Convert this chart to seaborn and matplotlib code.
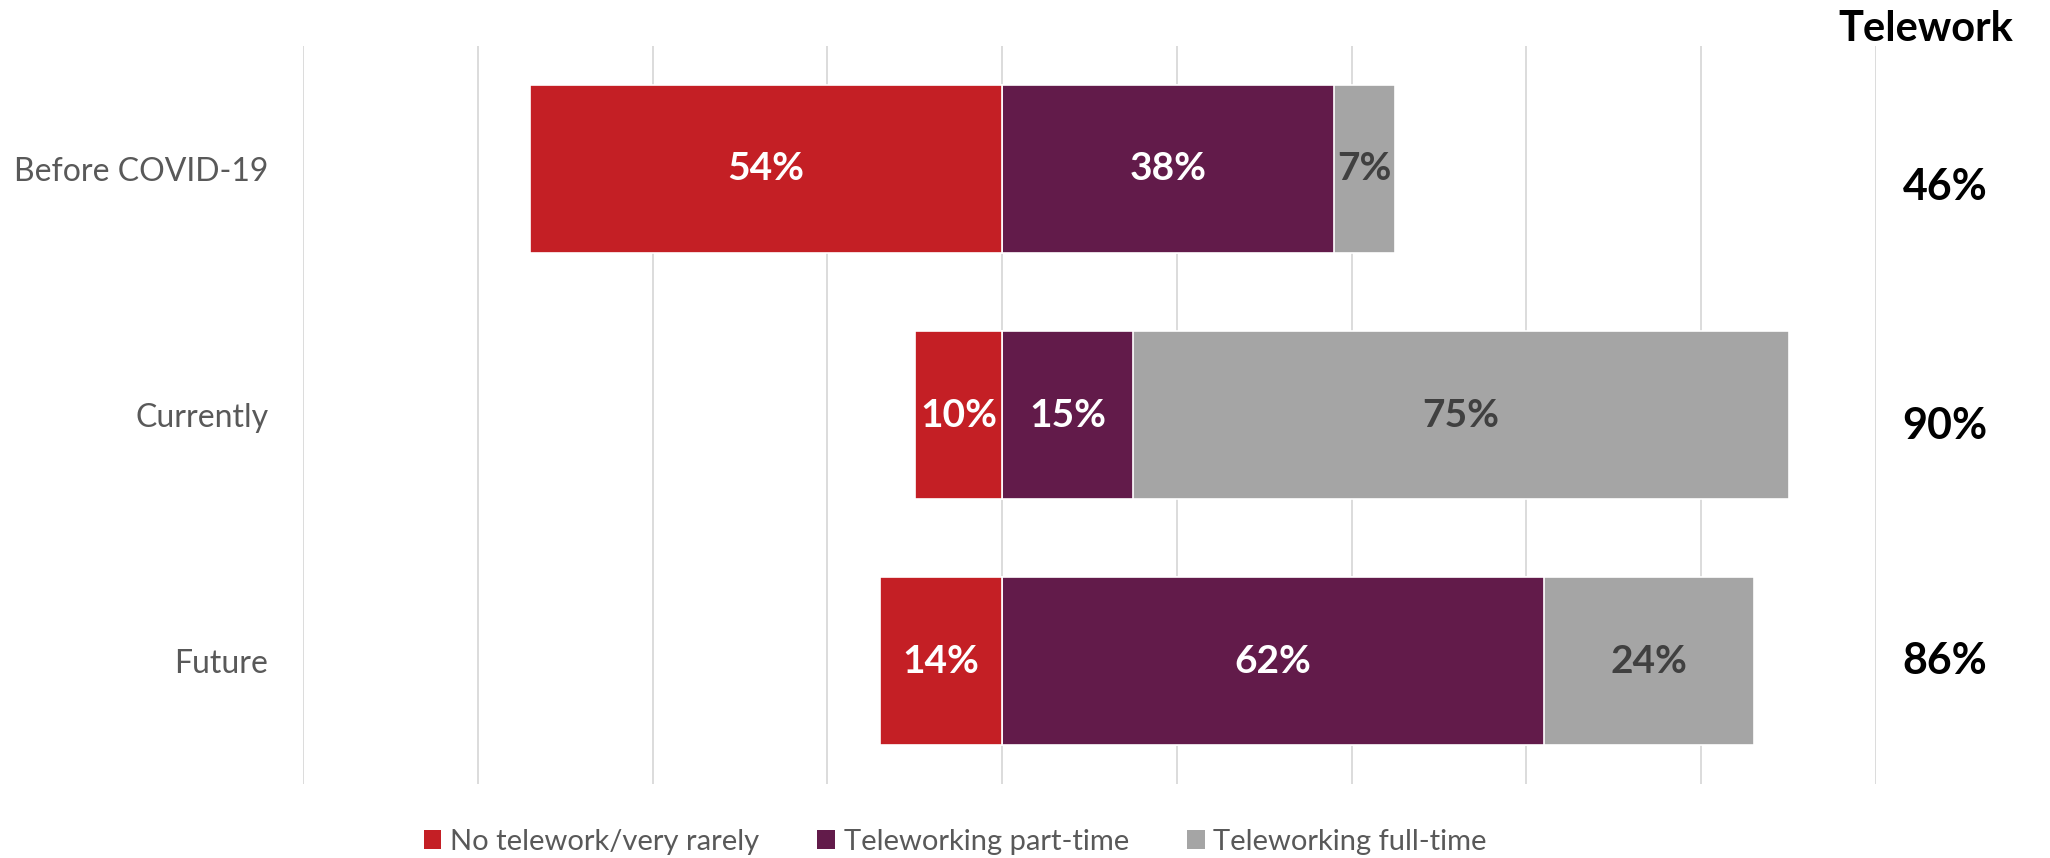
import matplotlib
matplotlib.use("Agg")
import matplotlib.pyplot as plt
import matplotlib.transforms as mtransforms
from matplotlib.patches import Patch
import numpy as np
import pandas as pd
import seaborn as sns

# Survey shares (%) by period
periods = ["Before COVID-19", "Currently", "Future"]
no_telework = [54, 10, 14]
part_time = [38, 15, 62]
full_time = [7, 75, 24]
telework_total = [46, 90, 86]

series_names = ["No telework/very rarely", "Teleworking part-time", "Teleworking full-time"]
colors = ["#C41F25", "#621B4A", "#A5A5A5"]
label_colors = ["white", "white", "#404040"]
grid_ticks = list(range(-80, 101, 20))

sns.set_theme(style="white")
plt.rcParams["font.family"] = ["Lato", "DejaVu Sans"]

fig = plt.figure(figsize=(20.5, 8.58), dpi=100)
ax = fig.add_axes([0.1478, 0.0862, 0.9151 - 0.1478, 0.9464 - 0.0862])

df = pd.DataFrame({
    "period": periods,
    "no": no_telework,
    "part": part_time,
    "full": full_time,
})
df["neg_no"] = -df["no"]
df["right_total"] = df["part"] + df["full"]

bar_kw = dict(orient="h", width=0.68, edgecolor="white", linewidth=1.2,
              saturation=1, errorbar=None, ax=ax, zorder=3)
# right side: full-time stacked after part-time (draw the total first, overlay part-time)
sns.barplot(data=df, x="right_total", y="period", color=colors[2], **bar_kw)
sns.barplot(data=df, x="part", y="period", color=colors[1], **bar_kw)
# left side: no telework as negative extent
sns.barplot(data=df, x="neg_no", y="period", color=colors[0], **bar_kw)

# segment labels
for i, row in df.iterrows():
    centers = [-row["no"] / 2, row["part"] / 2, row["part"] + row["full"] / 2]
    vals = [row["no"], row["part"], row["full"]]
    for c, v, col in zip(centers, vals, label_colors):
        ax.text(c, i, f"{v}%", ha="center", va="center", color=col,
                fontsize=28, fontweight="bold", zorder=5)

ax.set_xlim(-80, 100)
ax.set_ylim(2.5, -0.5)
ax.set_xticks(grid_ticks)
ax.set_xticklabels([])
ax.xaxis.grid(True, color="#D9D9D9", linewidth=1.3)
ax.yaxis.grid(False)
ax.set_axisbelow(True)
for s in ax.spines.values():
    s.set_visible(False)
ax.tick_params(axis="x", length=0)
ax.tick_params(axis="y", length=0, pad=25, labelsize=23, labelcolor="#595959")
ax.set_xlabel("")
ax.set_ylabel("")

# Telework totals column
trans = mtransforms.blended_transform_factory(fig.transFigure, ax.transData)
total_offsets = [0.075, 0.045, 0.0]
for i, (t, off) in enumerate(zip(telework_total, total_offsets)):
    ax.text(0.9488, i + off, f"{t}%", transform=trans, ha="center", va="center",
            fontsize=31, fontweight="bold", color="black")
fig.text(0.9395, 0.966, "Telework", ha="center", va="center",
         fontsize=30, fontweight="bold", color="black")

handles = [Patch(facecolor=c, edgecolor="none") for c in colors]
fig.legend(handles, series_names, loc="center", bbox_to_anchor=(0.466, 0.0186),
           ncol=3, frameon=False, fontsize=21, labelcolor="#595959",
           handlelength=0.6, handleheight=0.6, handletextpad=0.3,
           columnspacing=2.0)

fig.savefig("out.png", dpi=100)
